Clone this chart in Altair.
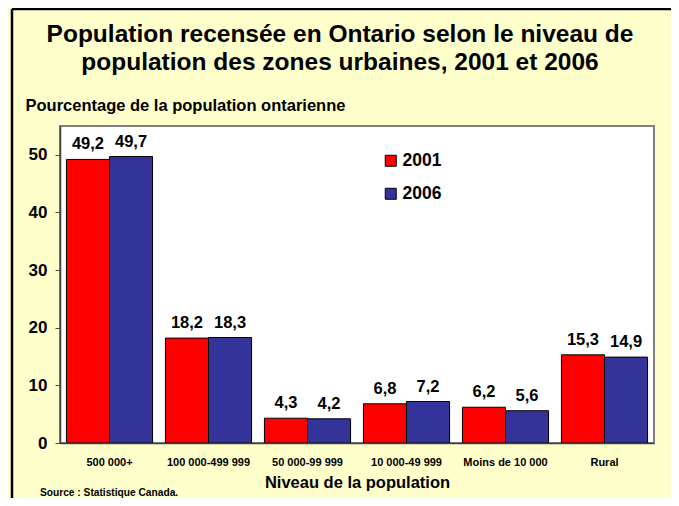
import altair as alt
import pandas as pd

title_lines = ["Population recensée en Ontario selon le niveau de",
               "population des zones urbaines, 2001 et 2006"]
categories = ["500 000+", "100 000-499 999", "50 000-99 999", "10 000-49 999", "Moins de 10 000", "Rural"]
years = ["2001", "2006"]
values_2001 = [49.2, 18.2, 4.3, 6.8, 6.2, 15.3]
values_2006 = [49.7, 18.3, 4.2, 7.2, 5.6, 14.9]
colors = ["#FF0000", "#333399"]
y_ticks = [0, 10, 20, 30, 40, 50]

rows = []
for c, a, b in zip(categories, values_2001, values_2006):
    for yr, v in zip(years, [a, b]):
        rows.append({"cat": c, "year": yr, "value": v, "label": f"{v:.1f}".replace(".", ",")})
df = pd.DataFrame(rows)
labels_df = pd.DataFrame({"cat": categories})

W, H = 594, 317
FONT = "Liberation Sans"

xscale = alt.Scale(domain=categories, paddingInner=0.13, paddingOuter=0.065)
offscale = alt.Scale(domain=years, paddingInner=0, paddingOuter=0)

bars = alt.Chart(df).mark_bar(stroke="black", strokeWidth=1).encode(
    x=alt.X("cat:N", scale=xscale, sort=categories,
            axis=alt.Axis(labels=False, ticks=False, title="Niveau de la population",
                          titleY=44, titleBaseline="alphabetic",
                          titleFontSize=16.5, titleFontWeight="bold", titleColor="black",
                          domainColor="#404040", domainWidth=1.5, zindex=1)),
    xOffset=alt.XOffset("year:N", scale=offscale),
    y=alt.Y("value:Q", scale=alt.Scale(domain=[0, 55], nice=False),
            axis=alt.Axis(values=y_ticks, grid=False, title="Pourcentage de la population ontarienne",
                          titleAngle=0, titleX=-35, titleY=-16, titleAlign="left",
                          titleBaseline="alphabetic", titleFontSize=16.5, titleFontWeight="bold",
                          titleColor="black", labelFontSize=17, labelFontWeight="bold",
                          labelColor="black", labelPadding=8, tickSize=5, tickColor="#404040",
                          domainColor="#404040", domainWidth=1.5, zindex=1)),
    color=alt.Color("year:N", scale=alt.Scale(domain=years, range=colors),
                    legend=alt.Legend(orient="none", legendX=322, legendY=26, title=None,
                                      symbolType="square", symbolSize=121,
                                      symbolStrokeColor="black", symbolStrokeWidth=1,
                                      labelFontSize=17.5, labelFontWeight="bold", labelColor="black",
                                      rowPadding=14, labelOffset=3, padding=0)),
)

value_text = alt.Chart(df).mark_text(dy=-10, baseline="alphabetic", fontSize=16.5,
                                      fontWeight="bold", color="black").encode(
    x=alt.X("cat:N", scale=xscale, sort=categories),
    xOffset=alt.XOffset("year:N", scale=offscale),
    y=alt.Y("value:Q"),
    text="label:N",
)

cat_text = alt.Chart(labels_df).mark_text(fontSize=11, fontWeight="bold", baseline="alphabetic",
                                          color="black").encode(
    x=alt.X("cat:N", scale=xscale, sort=categories),
    y=alt.value(H + 23),
    text="cat:N",
)

source_text = alt.Chart(pd.DataFrame({"t": ["Source : Statistique Canada."]})).mark_text(
    align="left", baseline="alphabetic", fontSize=10.2, fontWeight="bold", color="black"
).encode(x=alt.value(-20), y=alt.value(H + 52.5), text="t:N")

title_text = alt.Chart(pd.DataFrame({"t": ["\n".join(title_lines)]})).mark_text(
    align="center", baseline="alphabetic", fontSize=24.5, fontWeight="bold", color="black",
    lineBreak="\n", lineHeight=28
).encode(x=alt.value(280), y=alt.value(-84), text="t:N")

frame_df = pd.DataFrame({"a": [0]})
left_border = alt.Chart(frame_df).mark_rule(color="black", strokeWidth=2.5).encode(
    x=alt.value(-48), y=alt.value(-117), y2=alt.value(H + 100))
top_border = alt.Chart(frame_df).mark_rule(color="black", strokeWidth=2.5).encode(
    x=alt.value(-48), x2=alt.value(W + 100), y=alt.value(-117))

chart = alt.layer(bars, value_text, cat_text, source_text, title_text,
                  left_border, top_border).properties(
    width=W, height=H,
    padding={"left": 52, "top": 118, "right": 17, "bottom": 55},
    autosize=alt.AutoSizeParams(type="none"),
    background="#FFFFCC",
).configure(font=FONT).configure_view(fill="white", stroke="#808080", strokeWidth=2)

chart.save("out.html", embed_options={"renderer": "svg", "actions": False})
